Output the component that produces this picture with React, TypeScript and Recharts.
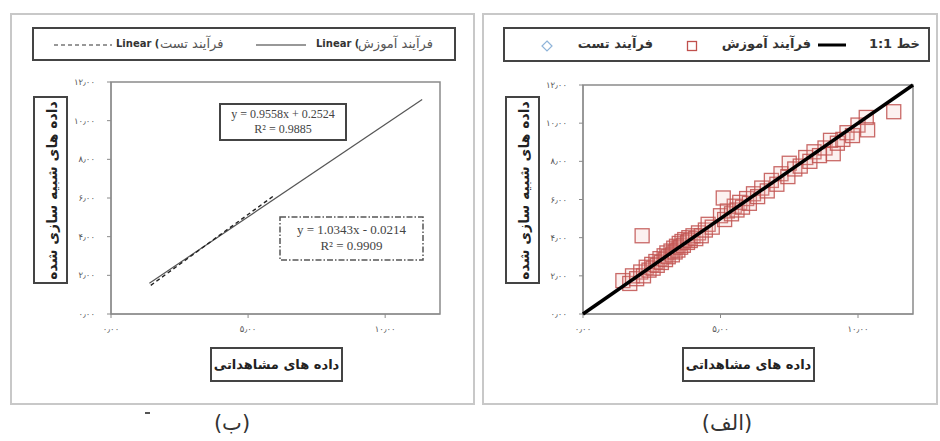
import React from 'react'
import { ScatterChart, Scatter, XAxis, YAxis, ReferenceArea } from 'recharts'

// left panel (ب): fitted lines of the two processes
const trainFit = [
  { x: 1.4, y: 1.59 },
  { x: 11.35, y: 11.1 },
]
const testFit = [
  { x: 1.45, y: 1.48 },
  { x: 5.95, y: 6.13 },
]

// right panel (الف): observed vs simulated, training process
const trainPoints = [
  [1.45, 1.75], [1.7, 1.6], [1.8, 2.0], [1.95, 1.85], [2.1, 2.2], [2.2, 2.0], [2.3, 2.45], [2.4, 2.3],
  [2.5, 2.6], [2.55, 2.4], [2.65, 2.75], [2.7, 2.55], [2.8, 2.9], [2.85, 2.7], [2.95, 3.05], [3.0, 2.85],
  [3.05, 3.2], [3.1, 3.0], [3.2, 3.3], [3.25, 3.1], [3.3, 3.45], [3.35, 3.25], [3.4, 3.55], [3.45, 3.35],
  [3.5, 3.7], [3.55, 3.5], [3.6, 3.8], [3.65, 3.6], [3.7, 3.9], [3.8, 3.75], [3.85, 4.0], [3.9, 3.85],
  [4.0, 4.1], [4.1, 3.95], [4.2, 4.25], [4.3, 4.1], [4.45, 4.4], [4.55, 4.7], [4.7, 4.55], [2.15, 4.1],
  [5.0, 5.15], [5.15, 4.95], [5.25, 5.4], [5.4, 5.25], [5.5, 5.65], [5.6, 5.45], [5.7, 5.85], [5.8, 5.6],
  [5.1, 6.08], [5.95, 6.05], [6.05, 5.8], [6.2, 6.3], [6.35, 6.15], [6.5, 6.6], [6.7, 6.45], [6.85, 7.0],
  [7.05, 6.8], [7.2, 7.35], [7.45, 7.2], [7.5, 7.9], [7.7, 7.6], [7.9, 7.75], [8.1, 8.2], [8.25, 8.0],
  [8.4, 8.5], [8.6, 8.3], [8.8, 8.7], [9.1, 8.4], [9.0, 9.1], [9.25, 8.95], [9.45, 9.15], [9.6, 9.5],
  [9.8, 9.35], [10.0, 9.9], [10.3, 10.3], [10.35, 9.65], [11.3, 10.6],
].map(([x, y]) => ({ x, y }))
const oneToOne = [
  { x: 0, y: 0 },
  { x: 12, y: 12 },
]

const xTicks = [0, 5, 10]
const yTicks = [0, 2, 4, 6, 8, 10, 12]

const fa = (v: number) =>
  v.toFixed(2).replace(/\d/g, d => '۰۱۲۳۴۵۶۷۸۹'[+d]).replace('.', '٫')

const tickStyle = { fontSize: 8.5, fill: '#555', fontFamily: 'DejaVu Sans' }
const axisGray = '#8a8a8a'

const noDot = () => <g />
const square = (props: any) => (
  <rect x={props.cx - 7} y={props.cy - 7} width={14} height={14} fill="#f2b8b5" fillOpacity={0.2} stroke="#c0504d" strokeWidth={1.3} strokeOpacity={0.85} />
)

function Panel({ left, width, captionX, caption, children }: { left: number; width: number; captionX: number; caption: string; children: React.ReactNode }) {
  return (
    <>
      <div style={{ position: 'absolute', left, top: 13, width, height: 392, border: '2px solid #c8c8c8', boxSizing: 'border-box' }} />
      {children}
      <div style={{ position: 'absolute', left: left + 23, top: 96, width: 35, height: 188, border: '2px solid #444', boxSizing: 'border-box', background: '#fff' }}>
        <div style={{ position: 'absolute', left: (31 - 184) / 2, top: (184 - 31) / 2, width: 184, height: 31, transform: 'rotate(-90deg)', display: 'flex', alignItems: 'center', justifyContent: 'center', whiteSpace: 'nowrap', fontSize: 14, fontWeight: 'bold', direction: 'rtl', color: '#222' }}>
          داده های شبیه سازی شده
        </div>
      </div>
      <div style={{ position: 'absolute', left: left + 200, top: 347, width: 133, height: 35, border: '2px solid #444', boxSizing: 'border-box', display: 'flex', alignItems: 'center', justifyContent: 'center', fontSize: 13, fontWeight: 'bold', direction: 'rtl', color: '#222' }}>
        داده های مشاهداتی
      </div>
      <div style={{ position: 'absolute', left: captionX - 50, top: 411, width: 100, textAlign: 'center', fontSize: 21, color: '#333', direction: 'rtl' }}>
        {caption}
      </div>
    </>
  )
}

export default function App() {
  return (
    <div style={{ position: 'fixed', left: 0, top: 0, width: 940, height: 441, background: '#fff', fontFamily: 'DejaVu Sans', overflow: 'hidden' }}>
      <Panel left={10} width={465} captionX={232} caption="(ب)">
        {/* legend */}
        <div style={{ position: 'absolute', left: 32, top: 27, width: 424, height: 34, border: '2px solid #444', boxSizing: 'border-box', fontSize: 10, color: '#333' }}>
          <svg style={{ position: 'absolute', left: 20, top: 14 }} width={58} height={4}>
            <line x1={0} y1={2} x2={58} y2={2} stroke="#333" strokeWidth={1.2} strokeDasharray="4 3" />
          </svg>
          <span style={{ position: 'absolute', left: 82, top: 9, fontWeight: 'bold' }}>Linear (</span>
          <span style={{ position: 'absolute', left: 126, top: 7, fontSize: 13, color: '#555', direction: 'rtl' }}>فرآیند تست</span>
          <svg style={{ position: 'absolute', left: 222, top: 14 }} width={50} height={4}>
            <line x1={0} y1={2} x2={50} y2={2} stroke="#333" strokeWidth={1.2} />
          </svg>
          <span style={{ position: 'absolute', left: 282, top: 9, fontWeight: 'bold' }}>Linear (</span>
          <span style={{ position: 'absolute', left: 324, top: 7, fontSize: 13, color: '#555', direction: 'rtl' }}>فرآیند آموزش</span>
        </div>
        <div style={{ position: 'absolute', left: 60, top: 70 }}>
          <ScatterChart width={395} height={274} margin={{ top: 12, right: 15, bottom: 0, left: 11 }}>
            <XAxis type="number" dataKey="x" domain={[0, 12]} ticks={xTicks} tickFormatter={fa} tick={tickStyle} height={30} axisLine={{ stroke: axisGray }} tickLine={{ stroke: axisGray }} tickSize={4} tickMargin={8} />
            <YAxis type="number" dataKey="y" domain={[0, 12]} ticks={yTicks} tickFormatter={fa} tick={tickStyle} width={40} axisLine={{ stroke: axisGray }} tickLine={{ stroke: axisGray }} tickSize={4} tickMargin={12} />
            <ReferenceArea x1={0} x2={12} y1={0} y2={12} fill="none" stroke={axisGray} strokeWidth={1.5} />
            <Scatter data={trainFit} line={{ stroke: '#555', strokeWidth: 1.2 }} shape={noDot} isAnimationActive={false} />
            <Scatter data={testFit} line={{ stroke: '#222', strokeWidth: 1.4, strokeDasharray: '4 3' }} shape={noDot} isAnimationActive={false} />
          </ScatterChart>
        </div>
        <div style={{ position: 'absolute', left: 219, top: 103, width: 128, height: 38, border: '2px solid #444', boxSizing: 'border-box', background: '#fff', fontFamily: 'Liberation Serif', fontSize: 12, lineHeight: '15px', textAlign: 'center', color: '#444', paddingTop: 2 }}>
          y = 0.9558x + 0.2524<br />R² = 0.9885
        </div>
        <div style={{ position: 'absolute', left: 279, top: 216, width: 145, height: 45, background: '#fff', fontFamily: 'Liberation Serif', fontSize: 13, lineHeight: '16px', textAlign: 'center', color: '#444', paddingTop: 6, boxSizing: 'border-box' }}>
          <svg style={{ position: 'absolute', left: 0, top: 0 }} width={145} height={45}>
            <rect x={1} y={1} width={143} height={43} fill="none" stroke="#555" strokeWidth={1.5} strokeDasharray="6 2 1.5 2" />
          </svg>
          <span style={{ position: 'relative' }}>y = 1.0343x - 0.0214<br />R² = 0.9909</span>
        </div>
        <div style={{ position: 'absolute', left: 145, top: 412, width: 5, height: 2, background: '#555' }} />
      </Panel>

      <Panel left={482} width={456} captionX={727} caption="(الف)">
        <div style={{ position: 'absolute', left: 503, top: 27, width: 427, height: 35, border: '2px solid #444', boxSizing: 'border-box', fontSize: 13, fontWeight: 'bold', color: '#333' }}>
          <svg style={{ position: 'absolute', left: 36, top: 11 }} width={12} height={12}>
            <polygon points="6,1 11,6 6,11 1,6" fill="none" stroke="#8fb4d9" strokeWidth={1.2} />
          </svg>
          <span style={{ position: 'absolute', right: 275, top: 7, direction: 'rtl', whiteSpace: 'nowrap' }}>فرآیند تست</span>
          <svg style={{ position: 'absolute', left: 181, top: 11 }} width={12} height={12}>
            <rect x={1.5} y={1.5} width={9} height={9} fill="none" stroke="#c0504d" strokeWidth={1.3} />
          </svg>
          <span style={{ position: 'absolute', right: 117, top: 7, direction: 'rtl', whiteSpace: 'nowrap' }}>فرآیند آموزش</span>
          <svg style={{ position: 'absolute', right: 82, top: 14 }} width={28} height={4}>
            <line x1={0} y1={2} x2={28} y2={2} stroke="#000" strokeWidth={3} />
          </svg>
          <span style={{ position: 'absolute', right: 8, top: 7, direction: 'rtl', whiteSpace: 'nowrap' }}>خط 1:1</span>
        </div>
        <div style={{ position: 'absolute', left: 532, top: 70 }}>
          <ScatterChart width={396} height={274} margin={{ top: 15, right: 15, bottom: 0, left: 11 }}>
            <XAxis type="number" dataKey="x" domain={[0, 12]} ticks={xTicks} tickFormatter={fa} tick={tickStyle} height={30} axisLine={{ stroke: axisGray }} tickLine={{ stroke: axisGray }} tickSize={4} tickMargin={8} />
            <YAxis type="number" dataKey="y" domain={[0, 12]} ticks={yTicks} tickFormatter={fa} tick={tickStyle} width={40} axisLine={{ stroke: axisGray }} tickLine={{ stroke: axisGray }} tickSize={4} tickMargin={12} />
            <ReferenceArea x1={0} x2={12} y1={0} y2={12} fill="none" stroke={axisGray} strokeWidth={1.5} />
            <Scatter data={trainPoints} shape={square} isAnimationActive={false} />
            <Scatter data={oneToOne} line={{ stroke: '#000', strokeWidth: 3.5 }} shape={noDot} isAnimationActive={false} />
          </ScatterChart>
        </div>
      </Panel>
    </div>
  )
}
